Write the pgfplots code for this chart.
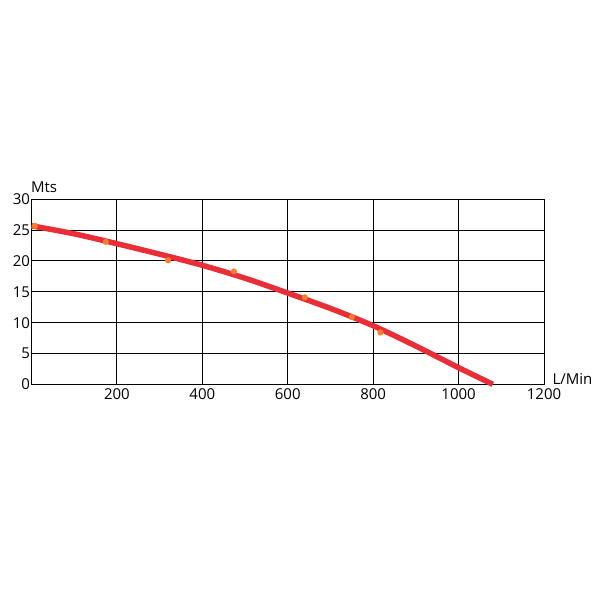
\documentclass[border=0pt]{standalone}
\usepackage{pgfplots}
\pgfplotsset{compat=1.18}
\usepackage{fontspec}
\setmainfont{Open Sans}
\definecolor{curvered}{RGB}{234,46,56}
\definecolor{dotorange}{RGB}{246,128,40}
\begin{document}
\begin{tikzpicture}[x=1pt,y=1pt]
\path[use as bounding box] (-31.5,-215.7) rectangle (568.5,384.3);
\begin{axis}[
  at={(0,0)}, anchor=origin,
  scale only axis, width=512.5pt, height=185pt,
  xmin=0, xmax=1200, ymin=0, ymax=30,
  xtick={200,400,...,1200}, ytick={0,5,...,30},
  grid=major, major grid style={black, line width=1pt},
  axis line style={black, line width=1pt},
  tick style={draw=none},
  font=\fontsize{15}{17}\selectfont,
  /pgf/number format/assume math mode=true,
  /pgf/number format/1000 sep={},
  xticklabel style={yshift=-1pt},
  yticklabel style={xshift=2pt},
  clip=false,
]
\addplot[curvered, line width=5.5pt, smooth, tension=0.5] coordinates {
 (0,25.7) (100,24.4) (200,22.8) (300,21.1) (400,19.3) (500,17.2)
 (600,14.8) (700,12.3) (800,9.5) (900,6.2) (1000,2.7) (1080,0)};
\addplot[only marks, mark=*, mark size=2.8pt, color=dotorange] coordinates {
 (8,25.7) (174,23.1) (320,20.1) (474,18.3) (640,14.1) (750,10.9) (817,8.4)};
\node[anchor=west, font=\fontsize{15}{17}\selectfont] at (axis cs:0,30) [xshift=-4pt, yshift=12pt] {Mts};
\node[anchor=west, font=\fontsize{15}{17}\selectfont] at (axis cs:1200,0) [xshift=5pt, yshift=5pt] {L/Min};
\end{axis}
\end{tikzpicture}
\end{document}
